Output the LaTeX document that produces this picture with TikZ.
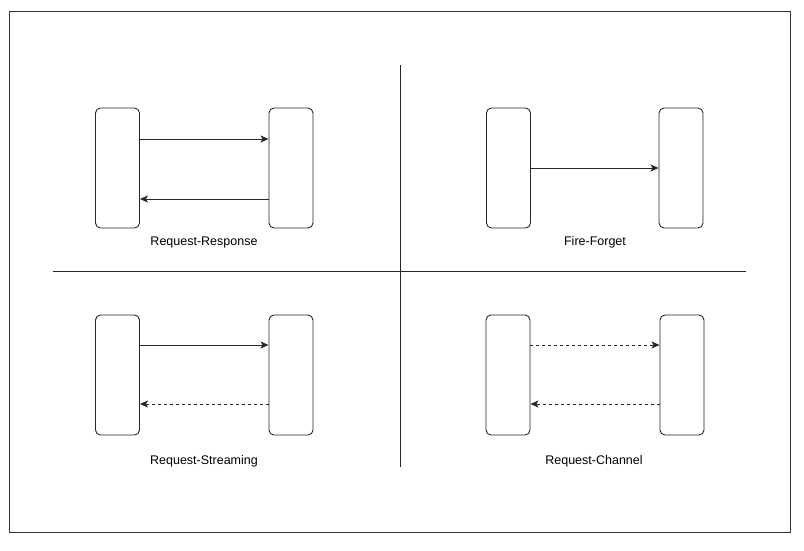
\documentclass[tikz,border=0pt]{standalone}
\usepackage{fontspec}
\setmainfont{Liberation Sans}
\usetikzlibrary{arrows.meta}
\begin{document}
\begin{tikzpicture}[x=1pt,y=-1pt,
  peer/.style={draw=black!85,line width=0.9pt,rounded corners=5pt,minimum width=44pt,minimum height=120pt,inner sep=0pt},
  msg/.style={draw=black!85,line width=0.9pt,-{Stealth[length=8pt,width=7pt,inset=2pt]}},
  stream/.style={msg,dash pattern=on 3pt off 3pt},
  divider/.style={draw=black!85,line width=0.9pt},
  caption/.style={font=\fontsize{12.5}{14}\selectfont,inner sep=0pt}]
\useasboundingbox (0,0) rectangle (804,550);
\draw[black!80,line width=1pt] (9,11) rectangle (790,532);

% quadrant dividers
\coordinate (vt) at (400,65);
\coordinate (vb) at (400,467);
\coordinate (hl) at (53,271);
\coordinate (hr) at (746,271);
\draw[divider] (vt) -- (vb);
\draw[divider] (hl) -- (hr);

% request-response
\node[peer] (rrA) at (117.5,168) {};
\node[peer] (rrB) at (291,168) {};
\draw[msg] (rrA.east |- 0,139) -- (rrB.west |- 0,139);
\draw[msg] (rrB.west |- 0,199) -- (rrA.east |- 0,199);
\node[caption] (rrL) at (204,242) {Request-Response};

% fire-and-forget
\node[peer] (ffA) at (508.5,168) {};
\node[peer] (ffB) at (681,168) {};
\draw[msg] (ffA) -- (ffB);
\node[caption] (ffL) at (595,242) {Fire-Forget};

% request-stream
\node[peer] (rsA) at (117.5,375) {};
\node[peer] (rsB) at (291,375) {};
\draw[msg] (rsA.east |- 0,345) -- (rsB.west |- 0,345);
\draw[stream] (rsB.west |- 0,404) -- (rsA.east |- 0,404);
\node[caption] (rsL) at (204,461) {Request-Streaming};

% request-channel
\node[peer] (rcA) at (508,375) {};
\node[peer] (rcB) at (682,375) {};
\draw[stream] (rcA.east |- 0,345) -- (rcB.west |- 0,345);
\draw[stream] (rcB.west |- 0,404) -- (rcA.east |- 0,404);
\node[caption] (rcL) at (594,461) {Request-Channel};
\end{tikzpicture}
\end{document}
